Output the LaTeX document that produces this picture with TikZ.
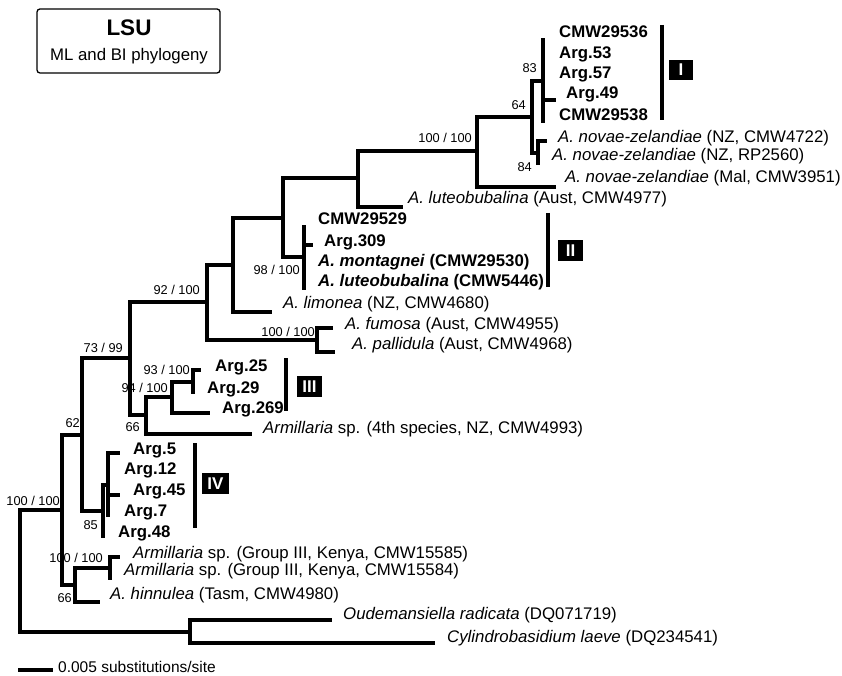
\documentclass[tikz,border=0pt]{standalone}
\usepackage{fontspec}
\setmainfont{Liberation Sans}
\usetikzlibrary{positioning}
\tikzset{
  branch/.style={line width=3.3pt},
  cladebar/.style={line width=3.3pt},
  taxon/.style={anchor=base west,inner sep=0pt,font=\fontsize{16.8}{18}\selectfont},
  bootval/.style={anchor=base east,inner sep=0pt,font=\fontsize{12.8}{14}\selectfont},
  cladebox/.style={fill=black,text=white,inner sep=0pt,minimum height=21pt,font=\fontsize{17}{18}\selectfont\bfseries},
}
\newcommand\taxon[4]{\node(#1)[taxon] at (#2,#3) {#4};}
\newcommand\bootval[4]{\node(#1)[bootval] at (#2,#3) {#4};}

\begin{document}
\begin{tikzpicture}[x=1pt,y=-1pt]
    \useasboundingbox (0,0) rectangle (842,676);
    % title
    \node(title)[draw,rounded corners=3pt,line width=1.3pt,minimum width=183pt,minimum height=64pt] at (128.5,41) {};
    \node(lsu)[anchor=base,font=\fontsize{22.5}{24}\selectfont\bfseries] at (129,36) {LSU};
    \node(subt)[anchor=base,font=\fontsize{16.8}{18}\selectfont] at (129,61) {ML and BI phylogeny};
    % internal nodes
    \coordinate (root) at (20,571);  \coordinate (nA) at (62,510);    \coordinate (nOut) at (190,632);
    \coordinate (n66) at (75,585);   \coordinate (nKen) at (110,568); \coordinate (n62) at (82,435);
    \coordinate (n85) at (103,511);  \coordinate (nIV) at (108,485);  \coordinate (n7399) at (130,358);
    \coordinate (n94) at (146,415);  \coordinate (n94b) at (172,397); \coordinate (n93) at (193,382);
    \coordinate (n92) at (207,302);  \coordinate (nFum) at (317,340); \coordinate (nB) at (233,265);
    \coordinate (nC) at (283,218);   \coordinate (nII) at (304,257);  \coordinate (nD) at (358,178);
    \coordinate (nE) at (477,151);   \coordinate (n64) at (532,117);  \coordinate (n83) at (543,81);
    \coordinate (n84) at (538,153);
    % tip ends
    \coordinate (eOud) at (332,620);  \coordinate (eCyl) at (435,643);   \coordinate (eK85) at (120,557);
    \coordinate (eK84) at (110,580);  \coordinate (eHin) at (100,602);   \coordinate (eA5) at (120,453);
    \coordinate (eA12) at (108,474);  \coordinate (eA45) at (120,495);   \coordinate (eA7) at (108,517);
    \coordinate (eA48) at (103,538);  \coordinate (eA25) at (201,370);   \coordinate (eA29) at (193,394);
    \coordinate (eA269) at (210,413); \coordinate (e4th) at (252,434);   \coordinate (eFum) at (333,328);
    \coordinate (ePal) at (335,352);  \coordinate (eLim) at (272,312);   \coordinate (e29529) at (304,225);
    \coordinate (eA309) at (313,245); \coordinate (e5446) at (304,290);  \coordinate (eLutA) at (403,207);
    \coordinate (eMal) at (556,187);  \coordinate (e29536) at (543,38);  \coordinate (eA49) at (556,100);
    \coordinate (e29538) at (543,123);\coordinate (eNZ1) at (547,141);   \coordinate (eNZ2) at (538,165);
    % branches
    \draw[branch] (root) |- (nA) (root) |- (nOut) (nOut) |- (eOud) (nOut) |- (eCyl)
        (nA) |- (n62) (nA) |- (n66) (n66) |- (nKen) (n66) |- (eHin) (nKen) |- (eK85) (nKen) |- (eK84)
        (n62) |- (n7399) (n62) |- (n85) (n85) |- (nIV) (n85) |- (eA48)
        (nIV) |- (eA5) (nIV) |- (eA12) (nIV) |- (eA45) (nIV) |- (eA7)
        (n7399) |- (n92) (n7399) |- (n94) (n94) |- (n94b) (n94) |- (e4th)
        (n94b) |- (n93) (n94b) |- (eA269) (n93) |- (eA25) (n93) |- (eA29)
        (n92) |- (nB) (n92) |- (nFum) (nFum) |- (eFum) (nFum) |- (ePal)
        (nB) |- (nC) (nB) |- (eLim) (nC) |- (nD) (nC) |- (nII)
        (nII) |- (e29529) (nII) |- (eA309) (nII) |- (e5446)
        (nD) |- (nE) (nD) |- (eLutA) (nE) |- (n64) (nE) |- (eMal)
        (n64) |- (n83) (n64) |- (n84) (n83) |- (e29536) (n83) |- (eA49) (n83) |- (e29538)
        (n84) |- (eNZ1) (n84) |- (eNZ2);
    % taxa
    \taxon{t29536}{559}{38}{\textbf{CMW29536}}
    \taxon{tA53}{559}{59}{\textbf{Arg.53}}
    \taxon{tA57}{559}{79}{\textbf{Arg.57}}
    \taxon{tA49}{566}{99}{\textbf{Arg.49}}
    \taxon{t29538}{559}{121}{\textbf{CMW29538}}
    \taxon{tNZ1}{558}{143}{\textit{A. novae-zelandiae} (NZ, CMW4722)}
    \taxon{tNZ2}{552}{161}{\textit{A. novae-zelandiae} (NZ, RP2560)}
    \taxon{tMal}{565}{183}{\textit{A. novae-zelandiae} (Mal, CMW3951)}
    \taxon{tLutA}{408}{204}{\textit{A. luteobubalina} (Aust, CMW4977)}
    \taxon{t29529}{318}{224}{\textbf{CMW29529}}
    \taxon{tA309}{324}{246}{\textbf{Arg.309}}
    \taxon{tMont}{318}{266}{\textbf{\textit{A. montagnei} (CMW29530)}}
    \taxon{t5446}{318}{286}{\textbf{\textit{A. luteobubalina} (CMW5446)}}
    \taxon{tLim}{283}{308}{\textit{A. limonea} (NZ, CMW4680)}
    \taxon{tFum}{345}{329}{\textit{A. fumosa} (Aust, CMW4955)}
    \taxon{tPal}{352}{349}{\textit{A. pallidula} (Aust, CMW4968)}
    \taxon{tA25}{215}{371}{\textbf{Arg.25}}
    \taxon{tA29}{207}{393}{\textbf{Arg.29}}
    \taxon{tA269}{222}{413}{\textbf{Arg.269}}
    \taxon{t4th}{263}{433}{\textit{Armillaria} sp. (4th species, NZ, CMW4993)}
    \taxon{tA5}{133}{454}{\textbf{Arg.5}}
    \taxon{tA12}{124}{474}{\textbf{Arg.12}}
    \taxon{tA45}{133}{495}{\textbf{Arg.45}}
    \taxon{tA7}{124}{516}{\textbf{Arg.7}}
    \taxon{tA48}{118}{537}{\textbf{Arg.48}}
    \taxon{tK85}{133}{558}{\textit{Armillaria} sp. (Group III, Kenya, CMW15585)}
    \taxon{tK84}{124}{575}{\textit{Armillaria} sp. (Group III, Kenya, CMW15584)}
    \taxon{tHin}{110}{599}{\textit{A. hinnulea} (Tasm, CMW4980)}
    \taxon{tOud}{343}{619}{\textit{Oudemansiella radicata} (DQ071719)}
    \taxon{tCyl}{447}{642}{\textit{Cylindrobasidium laeve} (DQ234541)}
    % support values
    \bootval{sRoot}{60}{505}{100 / 100}
    \bootval{s62}{80}{427.5}{62}
    \bootval{s7399}{123}{352.5}{73 / 99}
    \bootval{s92}{200}{294.5}{92 / 100}
    \bootval{s94}{168}{392.5}{94 / 100}
    \bootval{s66a}{140}{431.5}{66}
    \bootval{s93}{190}{374.5}{93 / 100}
    \bootval{s98}{300}{274.5}{98 / 100}
    \bootval{sFum}{315}{336.5}{100 / 100}
    \bootval{sTop}{472}{142.5}{100 / 100}
    \bootval{s83}{537}{72.5}{83}
    \bootval{s64}{526}{109.5}{64}
    \bootval{s84}{532}{171.5}{84}
    \bootval{sKen}{103}{562.5}{100 / 100}
    \bootval{s66b}{72}{602.5}{66}
    \bootval{s85}{98}{529.5}{85}
    % clades
    \draw[cladebar] (662,25) -- (662,120) (548,213) -- (548,287) (286,358) -- (286,411) (195,443) -- (195,528);
    \node(cladeI)[cladebox,minimum width=24pt,minimum height=20pt] at (681,70) {I};
    \node(cladeII)[cladebox,minimum width=25pt] at (570.5,250.5) {II};
    \node(cladeIII)[cladebox,minimum width=25pt] at (309.5,386.5) {III};
    \node(cladeIV)[cladebox,minimum width=27pt] at (215.5,483.5) {IV};
    % scale
    \coordinate (sc1) at (18,670); \coordinate (sc2) at (53,670);
    \draw[branch] (sc1) -- (sc2);
    \node(scale)[anchor=base west,inner sep=0pt,font=\fontsize{15.5}{17}\selectfont] at (58,672) {0.005 substitutions/site};
\end{tikzpicture}
\end{document}
